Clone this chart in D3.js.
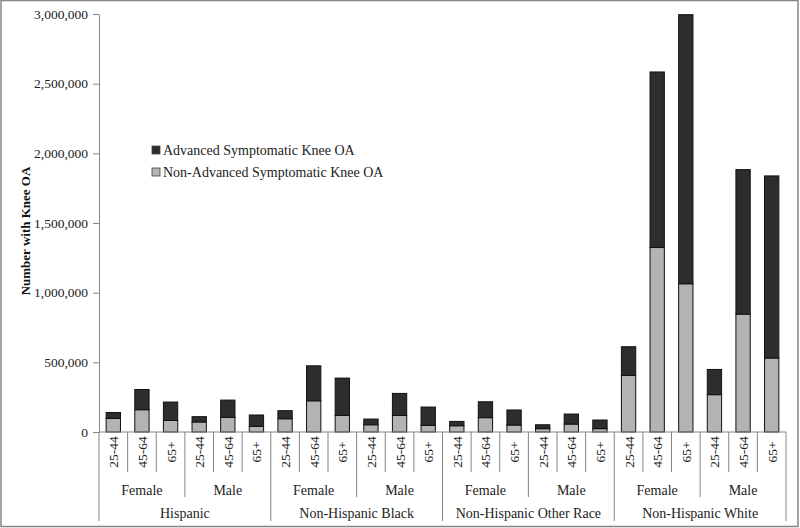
<!DOCTYPE html>
<html>
<head>
<meta charset="utf-8">
<script src="https://cdn.jsdelivr.net/npm/d3@7"></script>
<style>
  body { margin: 0; background: #fff; }
  svg { display: block; font-family: "Liberation Serif", "Times New Roman", serif; }
</style>
</head>
<body>
<div id="chart"></div>
<script>
// Data
const races = ["Hispanic", "Non-Hispanic Black", "Non-Hispanic Other Race", "Non-Hispanic White"];
const sexes = ["Female", "Male"];
const ages = ["25-44", "45-64", "65+"];
const seriesNames = ["Advanced Symptomatic Knee OA", "Non-Advanced Symptomatic Knee OA"];

// order: race > sex > age
const nonAdvanced = [
  97000, 160000, 83000, 72000, 105000, 40000,
  95000, 224000, 119000, 52000, 119000, 47000,
  45000, 103000, 50000, 24000, 57000, 24000,
  406000, 1324000, 1064000, 268000, 846000, 531000
];
const advanced = [
  43000, 145000, 132000, 38000, 124000, 82000,
  58000, 251000, 268000, 41000, 158000, 132000,
  31000, 114000, 108000, 28000, 72000, 62000,
  206000, 1260000, 1931000, 181000, 1037000, 1307000
];
const yTicks = [0, 500000, 1000000, 1500000, 2000000, 2500000, 3000000];

// Base variables
const w = 800;
const h = 528;
const plotLeft = 99, plotRight = 786, plotTop = 14, plotBottom = 432;
const darkFill = "#2d2d2d";
const lightFill = "#b3b3b3";
const lineColor = "#858585";

const rows = [];
races.forEach((r, ri) => sexes.forEach((s, si) => ages.forEach((a, ai) => {
  const i = ri * 6 + si * 3 + ai;
  rows.push({ key: `${r}|${s}|${a}`, race: r, sex: s, age: a, non: nonAdvanced[i], adv: advanced[i] });
})));

const xScale = d3.scaleBand()
  .domain(rows.map(d => d.key))
  .range([plotLeft, plotRight])
  .paddingInner(0.5)
  .paddingOuter(0.25);

const yScale = d3.scaleLinear()
  .domain([0, 3000000])
  .range([plotBottom, plotTop]);

const svg = d3.select("#chart")
  .append("svg")
  .attr("width", w)
  .attr("height", h);

// outer frame
svg.append("rect")
  .attr("x", 1).attr("y", 0.5)
  .attr("width", w - 3).attr("height", h - 2)
  .attr("fill", "none")
  .attr("stroke", lineColor)
  .attr("stroke-width", 1.5);

// y-axis
const yAxis = svg.append("g")
  .attr("transform", `translate(${plotLeft}, 0)`)
  .call(d3.axisLeft(yScale).tickValues(yTicks).tickFormat(d3.format(",")).tickSize(6).tickSizeOuter(0).tickPadding(5));
yAxis.select(".domain").attr("stroke", lineColor);
yAxis.selectAll(".tick line").attr("stroke", lineColor);
yAxis.selectAll(".tick text")
  .attr("fill", "#222")
  .style("font-size", "13.5px")
  .style("font-family", "Liberation Serif, serif");

svg.append("text")
  .attr("transform", `translate(30, ${(plotTop + plotBottom) / 2 + 8}) rotate(-90)`)
  .attr("text-anchor", "middle")
  .style("font-size", "13px")
  .style("font-weight", "bold")
  .attr("fill", "#111")
  .text("Number with Knee OA");

// bars
const bars = svg.append("g");
bars.selectAll("rect.non")
  .data(rows)
  .enter()
  .append("rect")
  .attr("class", "non")
  .attr("x", d => xScale(d.key))
  .attr("width", xScale.bandwidth())
  .attr("y", d => yScale(d.non))
  .attr("height", d => yScale(0) - yScale(d.non))
  .attr("fill", lightFill)
  .attr("stroke", "#111")
  .attr("stroke-width", 1);

bars.selectAll("rect.adv")
  .data(rows)
  .enter()
  .append("rect")
  .attr("class", "adv")
  .attr("x", d => xScale(d.key))
  .attr("width", xScale.bandwidth())
  .attr("y", d => yScale(d.non + d.adv))
  .attr("height", d => yScale(d.non) - yScale(d.non + d.adv))
  .attr("fill", darkFill)
  .attr("stroke", "#111")
  .attr("stroke-width", 1);

// x-axis line
svg.append("line")
  .attr("x1", plotLeft).attr("x2", plotRight)
  .attr("y1", plotBottom).attr("y2", plotBottom)
  .attr("stroke", lineColor);

// category separators
const bandLeft = i => plotLeft + (plotRight - plotLeft) * i / rows.length;
d3.range(rows.length + 1).forEach(i => {
  let y2 = 472;
  if (i % 3 === 0) y2 = 497;
  if (i % 6 === 0) y2 = 521;
  svg.append("line")
    .attr("x1", bandLeft(i)).attr("x2", bandLeft(i))
    .attr("y1", plotBottom).attr("y2", y2)
    .attr("stroke", lineColor);
});

// age labels
svg.selectAll("text.age")
  .data(rows)
  .enter()
  .append("text")
  .attr("class", "age")
  .attr("transform", d => `translate(${xScale(d.key) + xScale.bandwidth() / 2 + 5}, 452) rotate(-90)`)
  .attr("text-anchor", "middle")
  .style("font-size", "13.5px")
  .attr("fill", "#222")
  .text(d => d.age);

// sex labels
const sexGroups = [];
races.forEach((r, ri) => sexes.forEach((s, si) => sexGroups.push({ label: s, i: ri * 2 + si })));
svg.selectAll("text.sex")
  .data(sexGroups)
  .enter()
  .append("text")
  .attr("class", "sex")
  .attr("x", d => bandLeft(d.i * 3 + 1.5))
  .attr("y", 495)
  .attr("text-anchor", "middle")
  .style("font-size", "14px")
  .attr("fill", "#222")
  .text(d => d.label);

// race labels
svg.selectAll("text.race")
  .data(races)
  .enter()
  .append("text")
  .attr("class", "race")
  .attr("x", (d, i) => bandLeft(i * 6 + 3))
  .attr("y", 518)
  .attr("text-anchor", "middle")
  .style("font-size", "14px")
  .attr("fill", "#222")
  .text(d => d);

// legend
const legend = svg.append("g").attr("transform", "translate(152, 146)");
legend.selectAll("rect")
  .data(seriesNames)
  .enter()
  .append("rect")
  .attr("x", 0)
  .attr("y", (d, i) => i * 22)
  .attr("width", 8)
  .attr("height", 8)
  .attr("fill", (d, i) => i === 0 ? darkFill : lightFill)
  .attr("stroke", "#444")
  .attr("stroke-width", 0.8);
legend.selectAll("text")
  .data(seriesNames)
  .enter()
  .append("text")
  .attr("x", 11)
  .attr("y", (d, i) => i * 22 + 9)
  .style("font-size", "14px")
  .attr("fill", "#222")
  .text(d => d);
</script>
</body>
</html>
